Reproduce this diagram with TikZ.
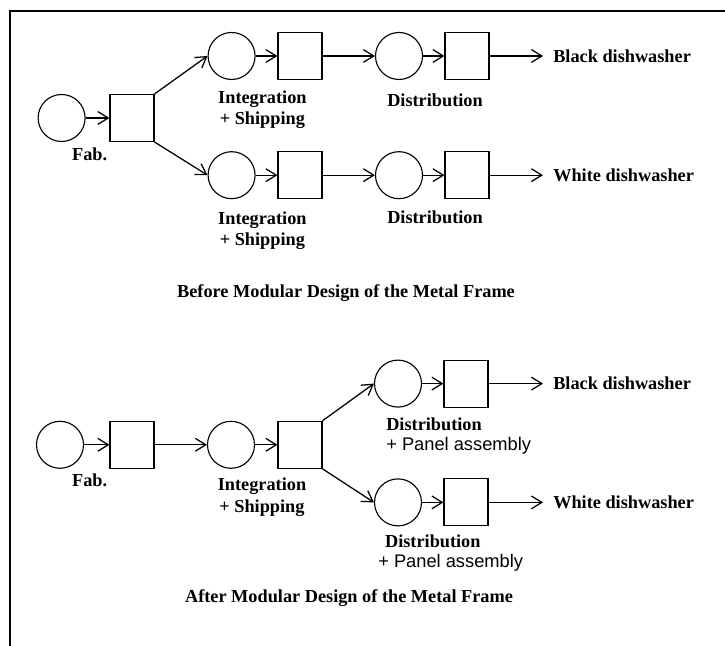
\documentclass[tikz,border=0pt]{standalone}
\usepackage{fontspec}
\setmainfont{Liberation Serif}
\setsansfont{Liberation Sans}
\usepackage{tikz}
\usetikzlibrary{arrows.meta, positioning}

\tikzset{
  flow/.style={line width=0.9pt, -{Straight Barb[length=2.6mm, width=3.2mm]}},
  place/.style={circle, draw, line width=0.8pt, minimum size=1.175cm, inner sep=0pt},
  stage/.style={rectangle, draw, line width=0.8pt, minimum width=1.1cm, minimum height=1.175cm, inner sep=0pt},
  lbl/.style={font=\fontsize{13}{15}\selectfont\bfseries, inner sep=0pt, align=center},
  product/.style={font=\fontsize{13}{15}\selectfont\bfseries, inner xsep=0.25cm, inner ysep=0pt, anchor=west},
}

\begin{document}
\begin{tikzpicture}
  \useasboundingbox (0,0) rectangle (18.125,16.15);
  % Frame
  \draw[line width=1.4pt] (0.25,0) -- (0.25,15.875) -- (18.125,15.875);

  % --- Before: one frame per colour ---
  \node[place] (fab1)    at (1.54,13.2) {};
  \node[stage] (fabbox1) at (3.3,13.2) {};
  \node[lbl]   (fablbl1) at (2.24,12.28) {Fab.};
  % black branch
  \node[place] (int1u)    at (5.79,14.75) {};
  \node[stage] (intbox1u) at (7.5,14.75) {};
  \node[place] (dis1u)    at (9.975,14.75) {};
  \node[stage] (disbox1u) at (11.675,14.75) {};
  \node[product] (black1) at (13.575,14.75) {Black dishwasher};
  \node[lbl] (intlbl1u) at (6.56,13.41) {Integration\\+ Shipping};
  \node[lbl] (dislbl1u) at (10.875,13.65) {Distribution};
  % white branch
  \node[place] (int1d)    at (5.79,11.77) {};
  \node[stage] (intbox1d) at (7.5,11.77) {};
  \node[place] (dis1d)    at (9.975,11.77) {};
  \node[stage] (disbox1d) at (11.675,11.77) {};
  \node[product] (white1) at (13.575,11.77) {White dishwasher};
  \node[lbl] (intlbl1d) at (6.56,10.39) {Integration\\+ Shipping};
  \node[lbl] (dislbl1d) at (10.875,10.72) {Distribution};

  \draw[flow] (fab1) -- (fabbox1);
  \draw[flow] (fabbox1.north east) -- (int1u.west);
  \draw[flow] (fabbox1.south east) -- (int1d.west);
  \draw[flow] (int1u) -- (intbox1u);
  \draw[flow] (intbox1u) -- (dis1u);
  \draw[flow] (dis1u) -- (disbox1u);
  \draw[flow] (disbox1u) -- (black1);
  \draw[flow] (int1d) -- (intbox1d);
  \draw[flow] (intbox1d) -- (dis1d);
  \draw[flow] (dis1d) -- (disbox1d);
  \draw[flow] (disbox1d) -- (white1);

  \node[lbl] (title1) at (8.65,8.83) {Before Modular Design of the Metal Frame};

  % --- After: common frame, panels added late ---
  \node[place] (fab2)    at (1.5,5.03) {};
  \node[stage] (fabbox2) at (3.3,5.03) {};
  \node[lbl]   (fablbl2) at (2.24,4.15) {Fab.};
  \node[place] (int2)    at (5.775,5.03) {};
  \node[stage] (intbox2) at (7.5,5.03) {};
  \node[lbl]   (intlbl2) at (6.55,3.72) {Integration\\+ Shipping};
  % black branch
  \node[place] (dis2u)    at (9.95,6.56) {};
  \node[stage] (disbox2u) at (11.65,6.56) {};
  \node[product] (black2) at (13.575,6.56) {Black dishwasher};
  \node[lbl, font=\fontsize{13}{14}\selectfont\bfseries, align=left, anchor=west] (dislbl2u)
       at (9.65,5.25) {Distribution\\{\sffamily\mdseries + Panel assembly}};
  % white branch
  \node[place] (dis2d)    at (9.95,3.59) {};
  \node[stage] (disbox2d) at (11.65,3.59) {};
  \node[product] (white2) at (13.575,3.59) {White dishwasher};
  \node[lbl, font=\fontsize{13}{14}\selectfont\bfseries, align=left, anchor=west] (dislbl2d)
       at (9.45,2.33) {\hspace{0.17cm}Distribution\\{\sffamily\mdseries + Panel assembly}};

  \draw[flow] (fab2) -- (fabbox2);
  \draw[flow] (fabbox2) -- (int2);
  \draw[flow] (int2) -- (intbox2);
  \draw[flow] (intbox2.north east) -- (dis2u.west);
  \draw[flow] (intbox2.south east) -- (dis2d.west);
  \draw[flow] (dis2u) -- (disbox2u);
  \draw[flow] (disbox2u) -- (black2);
  \draw[flow] (dis2d) -- (disbox2d);
  \draw[flow] (disbox2d) -- (white2);

  \node[lbl] (title2) at (8.725,1.2) {After Modular Design of the Metal Frame};
\end{tikzpicture}
\end{document}
